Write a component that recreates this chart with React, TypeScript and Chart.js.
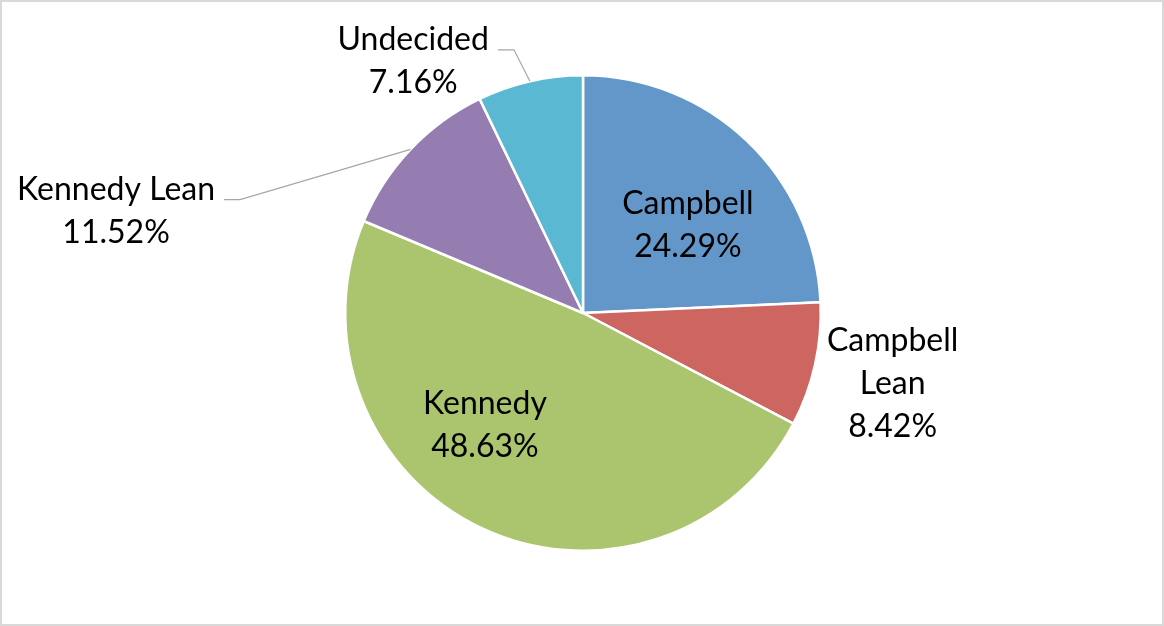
import React, { useEffect, useRef } from "react";
import { Chart, registerables } from "chart.js";

Chart.register(...registerables);

const categories = ["Campbell", "Campbell Lean", "Kennedy", "Kennedy Lean", "Undecided"];
const shares = [24.29, 8.42, 48.63, 11.52, 7.16];
const labelLines = [
  ["Campbell", "24.29%"],
  ["Campbell", "Lean", "8.42%"],
  ["Kennedy", "48.63%"],
  ["Kennedy Lean", "11.52%"],
  ["Undecided", "7.16%"],
];
const colors = ["#6397CA", "#CD6660", "#ABC56E", "#957CB1", "#5BB8D2"];

// label placement in polar units of the pie (angle deg clockwise from 3 o'clock, distance in radii)
const labelPolar = [
  { angle: -40, dist: 0.576, leader: false },
  { angle: 12.9, dist: 1.336, leader: false },
  { angle: 131.2, dist: 0.626, leader: false },
  { angle: 192.3, dist: 2.01, leader: true },
  { angle: 236, dist: 1.277, leader: true },
];

const FONT = "32px Lato, 'Open Sans', sans-serif";
const LINE_H = 43;

const labelPlugin = {
  id: "pieLabels",
  afterDatasetsDraw(chart: any) {
    const ctx = chart.ctx;
    const meta = chart.getDatasetMeta(0);
    ctx.save();
    ctx.font = FONT;
    ctx.fillStyle = "#000";
    ctx.textAlign = "center";
    ctx.textBaseline = "middle";
    meta.data.forEach((arc: any, i: number) => {
      const { x, y, outerRadius, startAngle, endAngle } = arc.getProps(
        ["x", "y", "outerRadius", "startAngle", "endAngle"],
        true
      );
      const p = labelPolar[i];
      const a = (p.angle * Math.PI) / 180;
      const cx = x + Math.cos(a) * p.dist * outerRadius;
      const cy = y + Math.sin(a) * p.dist * outerRadius;
      const lines = labelLines[i];
      const top = cy - ((lines.length - 1) * LINE_H) / 2;
      lines.forEach((t, k) => ctx.fillText(t, cx, top + k * LINE_H));
      if (p.leader) {
        const w = ctx.measureText(lines[0]).width;
        const sx = cx + w / 2 + 9;
        const sy = top + 10;
        const mid = (startAngle + endAngle) / 2;
        const ex = x + Math.cos(mid) * outerRadius;
        const ey = y + Math.sin(mid) * outerRadius;
        ctx.strokeStyle = "#A6A6A6";
        ctx.lineWidth = 1.2;
        ctx.beginPath();
        ctx.moveTo(sx, sy);
        ctx.lineTo(sx + 16, sy);
        ctx.lineTo(ex, ey);
        ctx.stroke();
      }
    });
    ctx.restore();
  },
};

export default function App() {
  const ref = useRef<HTMLCanvasElement>(null);
  useEffect(() => {
    if (!ref.current) return;
    const chart = new Chart(ref.current, {
      type: "pie",
      data: {
        labels: categories,
        datasets: [
          {
            data: shares,
            backgroundColor: colors,
            borderColor: "#ffffff",
            borderWidth: 2.5,
          },
        ],
      },
      options: {
        animation: false,
        responsive: false,
        maintainAspectRatio: false,
        layout: { padding: { left: 344, right: 342, top: 74, bottom: 74 } },
        plugins: {
          legend: { display: false },
          tooltip: { enabled: false },
        },
      },
      plugins: [labelPlugin],
    });
    return () => chart.destroy();
  }, []);
  return (
    <div style={{ position: "fixed", left: 0, top: 0, width: 1164, height: 626, background: "#fff" }}>
      <canvas ref={ref} width={1164} height={626} style={{ position: "absolute", left: 0, top: 0 }} />
      <div
        style={{
          position: "absolute",
          left: 0,
          top: 0,
          width: 1164,
          height: 626,
          boxSizing: "border-box",
          border: "2px solid #D9D9D9",
          pointerEvents: "none",
        }}
      />
    </div>
  );
}
